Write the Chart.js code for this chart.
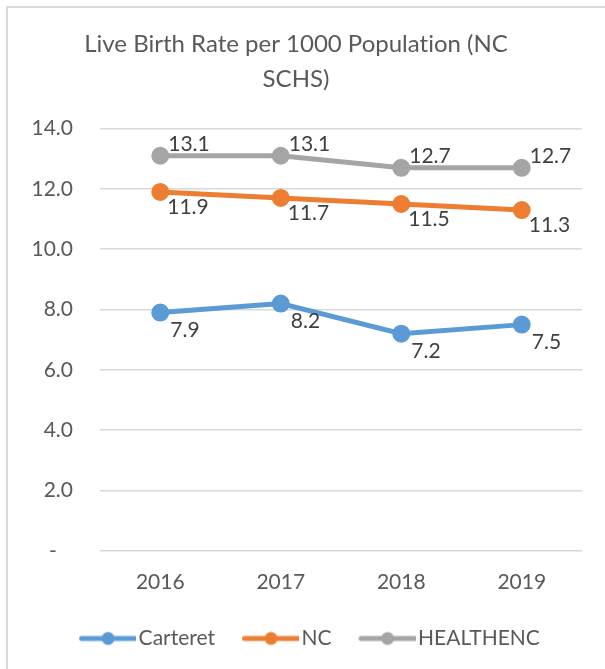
<!DOCTYPE html>
<html>
<head>
<meta charset="utf-8">
<script src="https://cdn.jsdelivr.net/npm/chart.js@4.4.1/dist/chart.umd.min.js"></script>
<style>
html,body{margin:0;padding:0;background:#fff;}
#wrap{position:absolute;left:0;top:0;width:605px;height:669px;}
</style>
</head>
<body>
<div id="wrap"><canvas id="c" width="605" height="669"></canvas></div>
<script>
const titleLines = ['Live Birth Rate per 1000 Population (NC', 'SCHS)'];
const years = ['2016', '2017', '2018', '2019'];
const carteret = [7.9, 8.2, 7.2, 7.5];
const nc = [11.9, 11.7, 11.5, 11.3];
const healthenc = [13.1, 13.1, 12.7, 12.7];
const seriesNames = ['Carteret', 'NC', 'HEALTHENC'];
const yTicks = [0, 2, 4, 6, 8, 10, 12, 14];

const colors = ['#5B9BD5', '#ED7D31', '#A5A5A5'];
const labelOffsets = [{dx: 10, dy: 18}, {dx: 7, dy: 15}, {dx: 8, dy: -12}];
const FONT = 'Lato, "Open Sans", sans-serif';

function legendIcon(color) {
  const c = document.createElement('canvas');
  c.width = 70; c.height = 16;
  const g = c.getContext('2d');
  g.strokeStyle = color; g.lineWidth = 5; g.lineCap = 'round';
  g.beginPath(); g.moveTo(15.5, 8); g.lineTo(68.5, 8); g.stroke();
  g.fillStyle = color; g.beginPath(); g.arc(42, 8, 6.5, 0, Math.PI * 2); g.fill();
  return c;
}

const frame = {
  id: 'frame',
  afterLayout(chart) {
    chart.titleBlock.left += 5; chart.titleBlock.right += 5;
    chart.legend.left += 16; chart.legend.right += 16;
  },
  beforeDraw(chart) {
    const ctx = chart.ctx;
    ctx.textRendering = 'optimizeSpeed';
    ctx.save();
    ctx.strokeStyle = '#d9d9d9';
    ctx.lineWidth = 2;
    ctx.beginPath();
    ctx.moveTo(7, 669); ctx.lineTo(7, 7); ctx.lineTo(605, 7);
    ctx.stroke();
    ctx.restore();
  }
};

const dataLabels = {
  id: 'dataLabels',
  afterDatasetsDraw(chart) {
    const ctx = chart.ctx;
    ctx.save();
    ctx.font = '21px ' + FONT;
    ctx.fillStyle = '#404040';
    ctx.textAlign = 'left';
    ctx.textBaseline = 'middle';
    chart.data.datasets.forEach((ds, di) => {
      const meta = chart.getDatasetMeta(di);
      const off = labelOffsets[di];
      meta.data.forEach((pt, i) => {
        ctx.fillText(ds.data[i].toFixed(1), pt.x + off.dx, pt.y + off.dy);
      });
    });
    ctx.restore();
  }
};

const seriesData = [carteret, nc, healthenc];
new Chart(document.getElementById('c'), {
  type: 'line',
  data: {
    labels: years,
    datasets: seriesData.map((d, i) => ({
      label: seriesNames[i],
      data: d,
      borderColor: colors[i],
      backgroundColor: colors[i],
      pointBackgroundColor: colors[i],
      pointBorderColor: colors[i],
      borderWidth: 5,
      pointStyle: 'circle',
      pointRadius: 6.5,
      pointHoverRadius: 6.5,
      tension: 0,
      fill: false
    }))
  },
  options: {
    responsive: false,
    animation: false,
    devicePixelRatio: 1,
    layout: {padding: {left: 0, right: 23, top: 0, bottom: 10}},
    plugins: {
      title: {
        display: true,
        text: titleLines,
        color: '#595959',
        font: {family: FONT, size: 24, weight: 'normal', lineHeight: 1.45},
        padding: {top: 27, bottom: 32}
      },
      legend: {
        position: 'bottom',
        labels: {
          usePointStyle: true,
          pointStyleWidth: 54,
          color: '#595959',
          font: {family: FONT, size: 21},
          padding: 22,
          generateLabels(chart) {
            return chart.data.datasets.map((ds, i) => ({
              text: ds.label,
              fillStyle: colors[i],
              strokeStyle: colors[i],
              pointStyle: legendIcon(colors[i]),
              lineWidth: 0,
              datasetIndex: i,
              fontColor: '#595959'
            }));
          }
        }
      },
      tooltip: {enabled: false}
    },
    scales: {
      x: {
        offset: true,
        grid: {display: false},
        border: {display: false},
        ticks: {color: '#595959', font: {family: FONT, size: 21}, padding: 11}
      },
      y: {
        min: 0, max: 14,
        afterBuildTicks(scale) { scale.ticks = yTicks.map(v => ({value: v})); },
        afterFit(scale) { scale.width = 100; },
        grid: {color: '#d9d9d9', lineWidth: 1.5, drawTicks: false},
        border: {display: false},
        ticks: {
          color: '#595959',
          font: {family: FONT, size: 21},
          padding: 27,
          callback: v => v === 0 ? '-   ' : v.toFixed(1)
        }
      }
    }
  },
  plugins: [frame, dataLabels]
});
</script>
</body>
</html>
